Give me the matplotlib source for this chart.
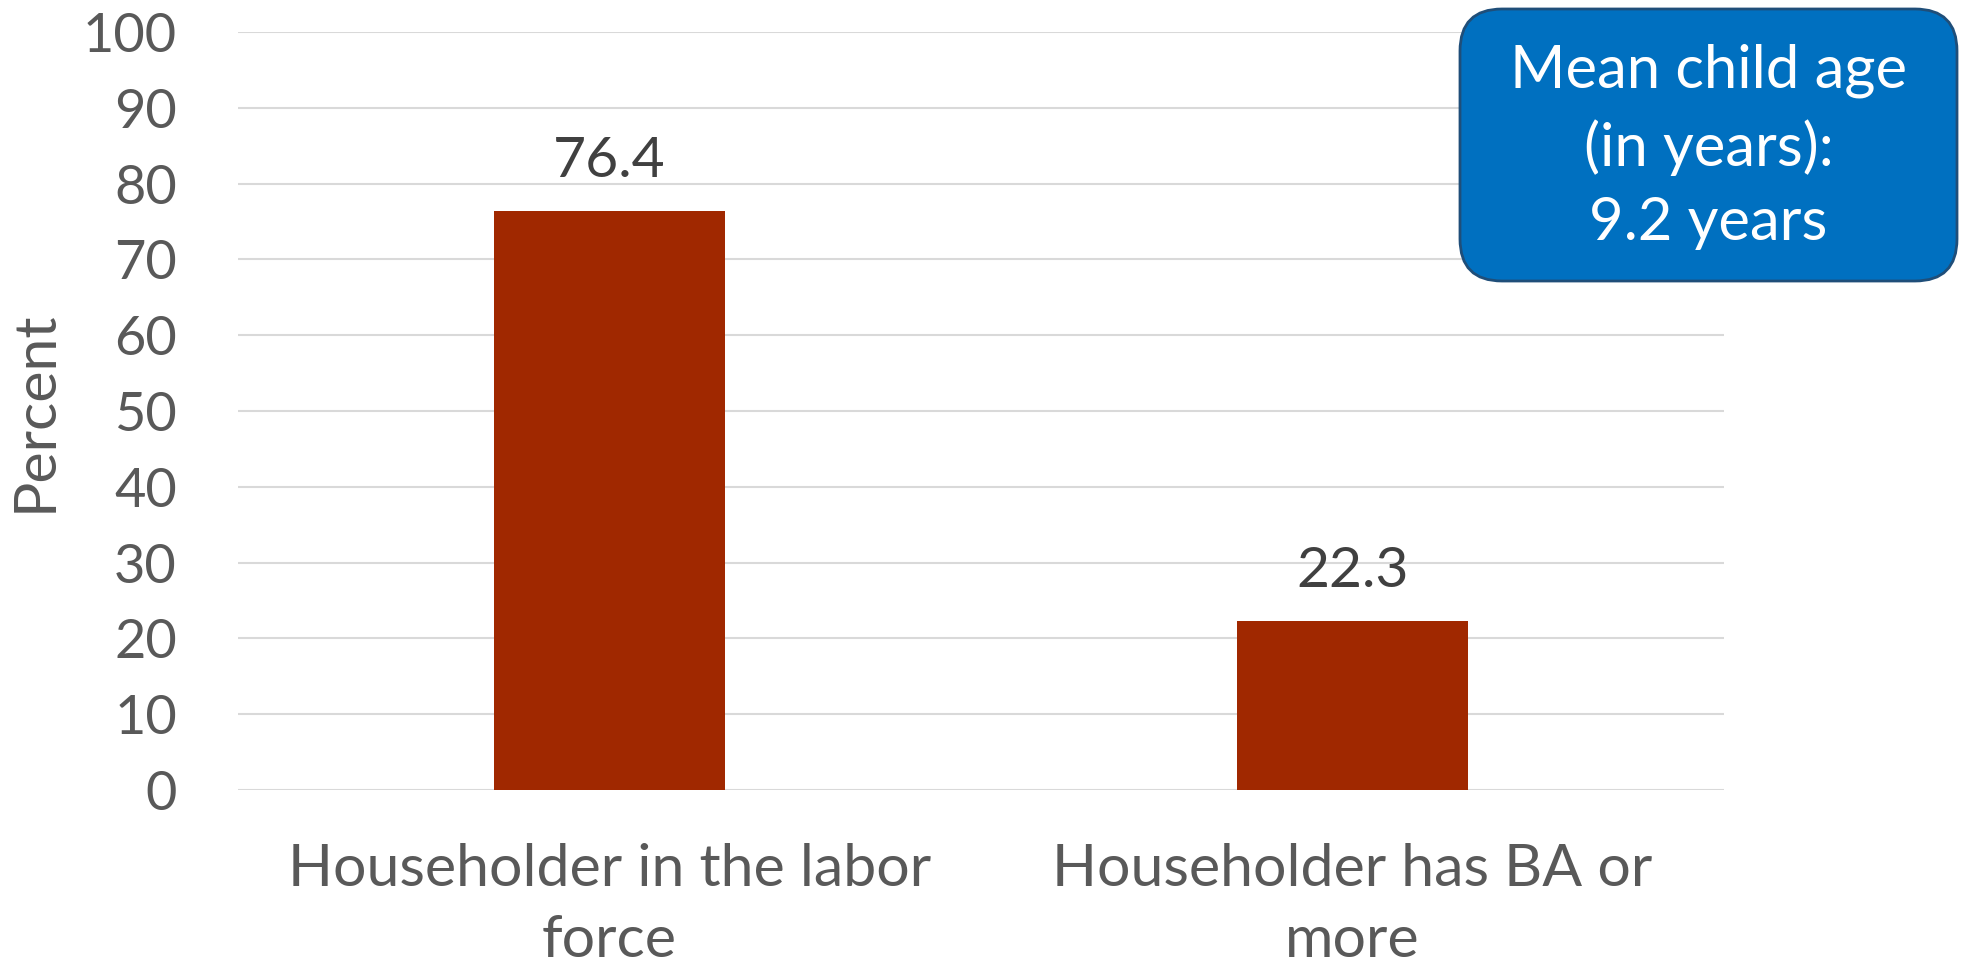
import matplotlib
matplotlib.use("Agg")
import matplotlib.pyplot as plt
from matplotlib.patches import FancyBboxPatch

categories = ["Householder in the labor\nforce", "Householder has BA or\nmore"]
values = [76.4, 22.3]
y_ticks = [0, 10, 20, 30, 40, 50, 60, 70, 80, 90, 100]
y_label = "Percent"
box_text = "Mean child age\n(in years):\n9.2 years"

plt.rcParams['font.family'] = ['Lato', 'DejaVu Sans']
FS_NUM = 39
FS_TXT = 42.5
GRAY = "#595959"

fig = plt.figure(figsize=(19.62, 9.74), dpi=100)
ax = fig.add_axes([238/1962, 184/974, (1724-238)/1962, (790-32)/974])

x = list(range(len(categories)))
ax.bar(x, values, width=0.312, color="#A02800", zorder=3)
ax.set_xlim(-0.5, len(categories) - 0.5)
ax.set_ylim(0, 100)
ax.set_yticks(y_ticks)
ax.set_yticklabels([str(t) for t in y_ticks])
ax.set_xticks(x)
ax.set_xticklabels(categories, linespacing=1.42)
ax.tick_params(axis='y', length=0, pad=44, labelsize=FS_NUM, labelcolor=GRAY)
ax.tick_params(axis='x', length=0, pad=38, labelsize=FS_TXT, labelcolor=GRAY)
for s in ax.spines.values():
    s.set_visible(False)
ax.yaxis.grid(True, color="#D9D9D9", linewidth=1.5, zorder=0)
ax.set_axisbelow(True)

for xi, v in zip(x, values):
    ax.annotate(f"{v}", (xi, v), xytext=(0, 17), textcoords="offset points",
                ha="center", va="bottom", fontsize=41, color="#404040")

fig.text(35/1962, 1 - 411/974, y_label, rotation=90, ha="center", va="center",
         fontsize=FS_TXT, color=GRAY)

box = FancyBboxPatch((14.60, 6.93), 4.97, 2.72,
                     boxstyle="round,pad=0,rounding_size=0.42",
                     transform=fig.dpi_scale_trans, facecolor="#0070C0",
                     edgecolor="#1F4E79", linewidth=2)
fig.patches.append(box)
fig.text(17.085, 8.27, box_text, transform=fig.dpi_scale_trans,
         ha="center", va="center", fontsize=43, color="white", linespacing=1.45)

fig.savefig("out.png", dpi=100)
